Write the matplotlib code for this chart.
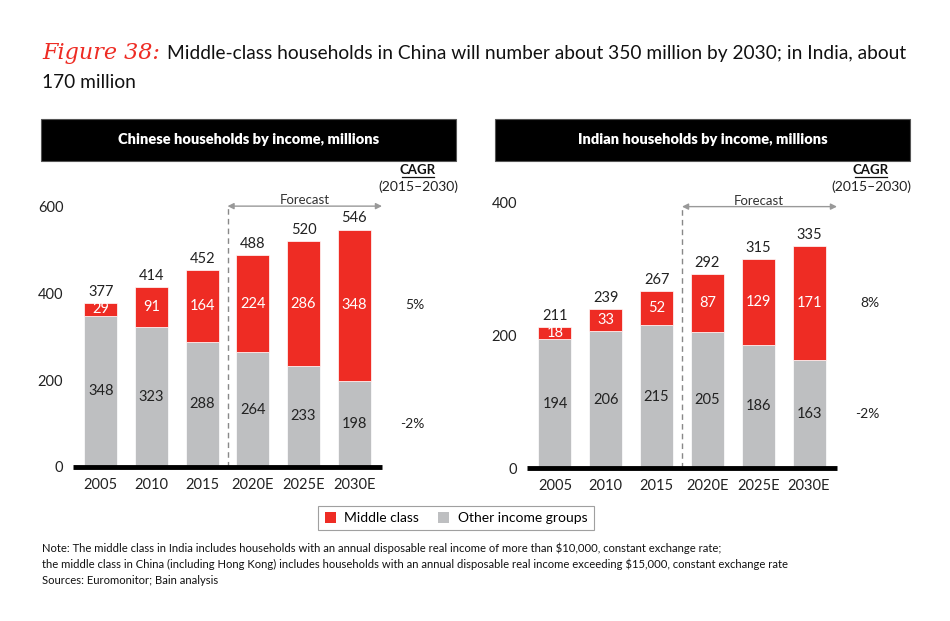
import matplotlib
matplotlib.use("Agg")
import matplotlib.pyplot as plt
from matplotlib.patches import Rectangle, Patch

plt.rcParams['font.family'] = ['Lato', 'DejaVu Sans']

years = ['2005', '2010', '2015', '2020E', '2025E', '2030E']
china_middle = [29, 91, 164, 224, 286, 348]
china_other = [348, 323, 288, 264, 233, 198]
china_total = [377, 414, 452, 488, 520, 546]
india_middle = [18, 33, 52, 87, 129, 171]
india_other = [194, 206, 215, 205, 186, 163]
india_total = [211, 239, 267, 292, 315, 335]
china_cagr = ['5%', '-2%']
india_cagr = ['8%', '-2%']

RED = '#EE2C24'
GRAY = '#BEBFC1'
W, H = 950, 621


def fx(px):
    return px / W


def fy(py):
    return 1 - py / H


fig = plt.figure(figsize=(9.5, 6.21), dpi=100)

# title
t1 = fig.text(fx(42), fy(53), 'Figure 38:', color=RED, fontsize=16,
              family='DejaVu Serif', style='italic', va='center')
fig.canvas.draw()
bb = t1.get_window_extent()
fig.text((bb.x1 + 7) / W, fy(53),
         'Middle-class households in China will number about 350 million by 2030; in India, about',
         fontsize=13.8, va='center', color='#111111')
fig.text(fx(42), fy(82), '170 million', fontsize=13.8, va='center', color='#111111')


def panel(left, right, zero_y, top_y, ymax, yticks, middle, other, total, cagr, title,
          hx0, hx1, arrow_val, cagr_x):
    # header
    fig.patches.append(Rectangle((fx(hx0), fy(161)), (hx1 - hx0) / W, 42 / H,
                                 transform=fig.transFigure, facecolor='black',
                                 edgecolor='#555555', lw=0.8))
    fig.text(fx((hx0 + hx1) / 2), fy(140), title, color='white', fontsize=10.5,
             weight='heavy', ha='center', va='center')
    ax = fig.add_axes([fx(left), fy(zero_y), (right - left) / W, (zero_y - top_y) / H])
    x = list(range(len(years)))
    ax.bar(x, other, width=0.65, color=GRAY, edgecolor='white', lw=0.5)
    ax.bar(x, middle, width=0.65, bottom=other, color=RED, edgecolor='white', lw=0.5)
    for i in x:
        ax.text(i, other[i] / 2, str(other[i]), ha='center', va='center',
                fontsize=10.5, color='#222222')
        ax.text(i, other[i] + middle[i] / 2, str(middle[i]), ha='center', va='center',
                fontsize=10.5, color='white')
        ax.annotate(str(total[i]), (i, other[i] + middle[i]), xytext=(0, 3),
                    textcoords='offset points', ha='center', va='bottom',
                    fontsize=10.5, color='#222222')
    ax.set_xlim(-0.55, 5.55)
    ax.set_ylim(0, ymax)
    ax.set_yticks(yticks)
    ax.set_xticks(x)
    ax.set_xticklabels(years)
    ax.tick_params(length=0, labelsize=10.5, colors='#222222')
    ax.tick_params(axis='x', pad=8)
    ax.tick_params(axis='y', pad=7)
    for s in ['top', 'right', 'left']:
        ax.spines[s].set_visible(False)
    ax.spines['bottom'].set_linewidth(3.5)
    ax.spines['bottom'].set_capstyle('butt')
    ax.patch.set_alpha(0)
    # forecast marker
    ax.plot([2.5, 2.5], [0, arrow_val], ls=(0, (4, 3)), color='#888888', lw=1, clip_on=False)
    ax.annotate('', xy=(5.55, arrow_val), xytext=(2.5, arrow_val),
                arrowprops=dict(arrowstyle='<|-|>', color='#999999', lw=1,
                                mutation_scale=9, shrinkA=0, shrinkB=0),
                annotation_clip=False)
    ax.text(4.02, arrow_val, 'Forecast', ha='center', va='bottom', fontsize=9.5,
            color='#333333')
    # CAGR column
    fig.text(fx(cagr_x), fy(170.5), 'CAGR', ha='center', va='center', fontsize=9.5,
             weight='bold', color='#111111')
    fig.lines.append(plt.Line2D([fx(cagr_x - 16), fx(cagr_x + 16)], [fy(177.5), fy(177.5)],
                                transform=fig.transFigure, color='#111111', lw=0.9))
    fig.text(fx(cagr_x), fy(187), '(2015\u20132030)', ha='center', va='center',
             fontsize=10, color='#222222')
    last = len(years) - 1
    ax.text(6.2, other[last] + middle[last] / 2, cagr[0], ha='center', va='center',
            fontsize=10, color='#222222', clip_on=False)
    ax.text(6.15, other[last] / 2, cagr[1], ha='center', va='center',
            fontsize=10, color='#222222', clip_on=False)
    return ax


panel(73, 382, 467, 197, 621, [0, 200, 400, 600], china_middle, china_other, china_total,
      china_cagr, 'Chinese households by income, millions', 41, 456, 600, 418)
panel(527, 837, 468, 196, 410, [0, 200, 400], india_middle, india_other, india_total,
      india_cagr, 'Indian households by income, millions', 495, 910, 394, 871)

handles = [Patch(facecolor=RED, label='Middle class'),
           Patch(facecolor=GRAY, label='Other income groups')]
leg = fig.legend(handles=handles, loc='center', bbox_to_anchor=(fx(456), fy(518)), ncol=2,
                 frameon=True, fancybox=False, fontsize=10, handlelength=0.8,
                 handleheight=0.8, columnspacing=1.4, handletextpad=0.6,
                 edgecolor='#888888', borderpad=0.45)
leg.get_frame().set_linewidth(0.8)

notes = ['Note: The middle class in India includes households with an annual disposable real income of more than $10,000, constant exchange rate;',
         'the middle class in China (including Hong Kong) includes households with an annual disposable real income exceeding $15,000, constant exchange rate',
         'Sources: Euromonitor; Bain analysis']
for i, line in enumerate(notes):
    fig.text(fx(42), fy(548 + i * 16.5), line, fontsize=8.1, va='center', color='#111111')

fig.savefig('out.png', dpi=100)
